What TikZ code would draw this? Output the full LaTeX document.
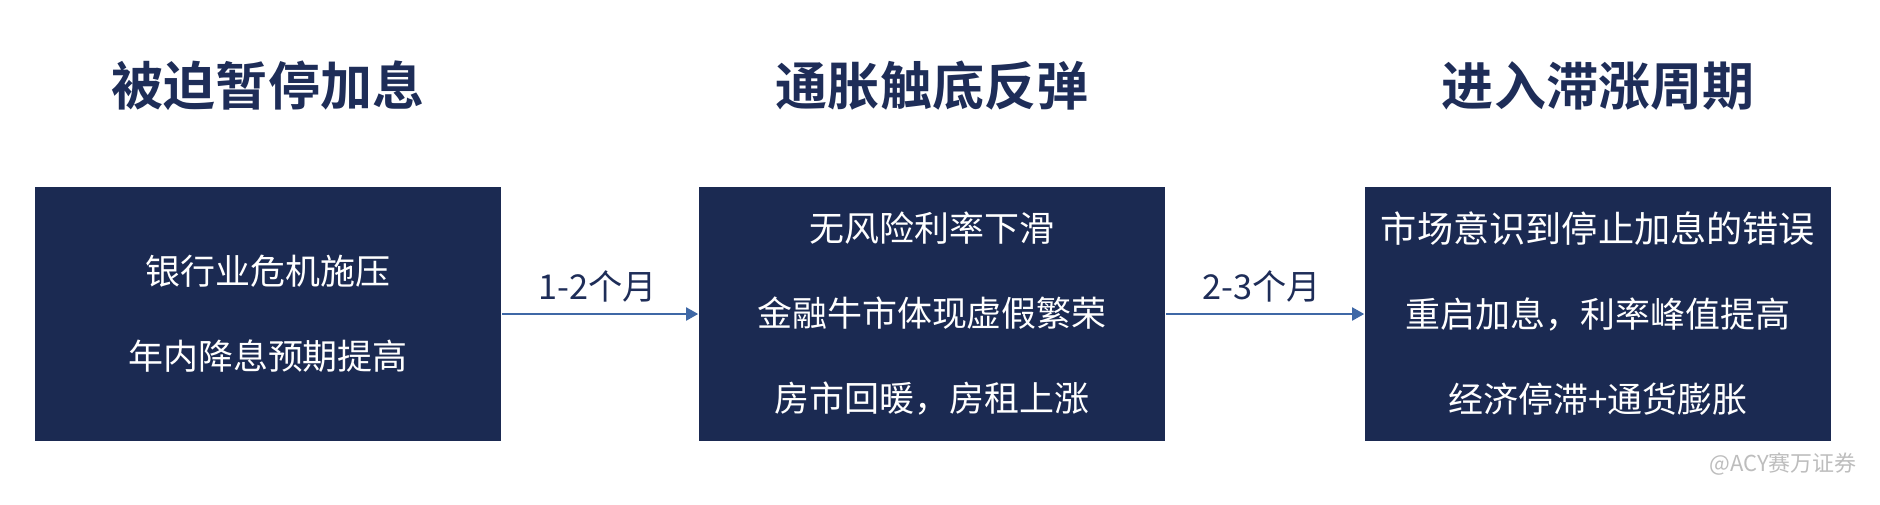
\documentclass[tikz,border=0pt]{standalone}
\usepackage{fontspec}
\setmainfont{Noto Sans CJK SC}[BoldFont={Noto Sans CJK SC Bold}]
\usetikzlibrary{arrows.meta}
\definecolor{boxnavy}{HTML}{1B2A52}
\definecolor{titlenavy}{HTML}{1E2D58}
\definecolor{arrowblue}{HTML}{3F68A6}
\definecolor{marktext}{HTML}{BDBDBD}
\begin{document}
\begin{tikzpicture}[x=0.02cm,y=-0.02cm]
\tikzstyle{every node}+=[inner sep=0pt]
\tikzstyle{phase}=[text=titlenavy, font=\fontsize{29.6}{34}\selectfont\bfseries]
\tikzstyle{stage}=[fill=boxnavy, text=white, minimum width=9.34cm, minimum height=5.08cm, align=center, font=\fontsize{19.9}{48.4}\selectfont]
\tikzstyle{lag}=[text=titlenavy, font=\fontsize{19.5}{24}\selectfont]
\tikzstyle{flow}=[arrowblue, line width=1.1pt, -{Triangle[length=0.24cm,width=0.26cm]}]
\useasboundingbox (0,0) rectangle (1880,504);
% titles
\node [phase] (t1) at (268,86) {被迫暂停加息};
\node [phase] (t2) at (932,86) {通胀触底反弹};
\node [phase] (t3) at (1598,86) {进入滞涨周期};
% boxes
\node [stage] (b1) at (268,314) {银行业危机施压\\年内降息预期提高};
\node [stage] (b2) at (932,314) {无风险利率下滑\\金融牛市体现虚假繁荣\\房市回暖，房租上涨};
\node [stage] (b3) at (1598,314) {{\fontsize{20.6}{48.4}\selectfont 市场意识到停止加息的错误}\\重启加息，利率峰值提高\\经济停滞+通货膨胀};
% arrows
\draw [flow] (b1) -- (b2);
\draw [flow] (b2) -- (b3);
\node [lag] (l1) at (598,286) {1-2个月};
\node [lag] (l2) at (1262,286) {2-3个月};
\node [text=marktext, font=\fontsize{12.5}{15}\selectfont, anchor=east] (wm) at (1857,464) {@ACY赛万证券};
\end{tikzpicture}
\end{document}
